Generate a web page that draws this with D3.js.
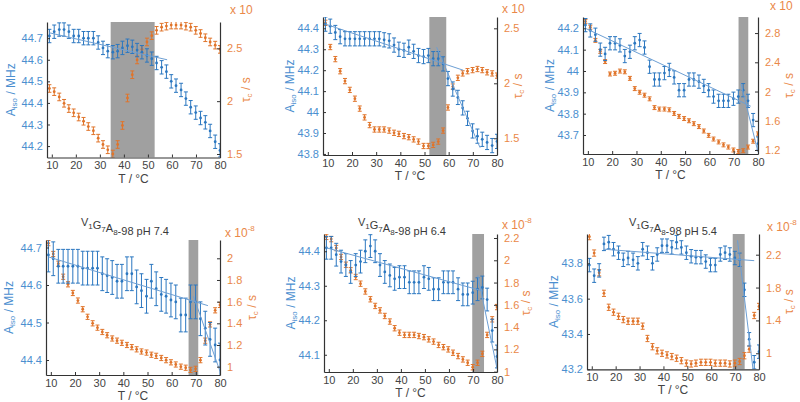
<!DOCTYPE html>
<html><head><meta charset="utf-8">
<script src="https://cdn.jsdelivr.net/npm/d3@7/dist/d3.min.js"></script>
<style>
body{margin:0;background:#fff}
svg{display:block}
text{font-family:"Liberation Sans",Arial,Helvetica,sans-serif}
</style>
</head><body>
<svg id="c" width="800" height="402"></svg>
<script>
// ---------------- DATA ----------------
const temps = [9.0, 11.0, 13.1, 15.1, 17.1, 19.1, 21.2, 23.2, 25.2, 27.3, 29.3, 31.3, 33.3, 35.4, 37.4, 39.4, 41.5, 43.5,
               45.5, 47.5, 49.6, 51.6, 53.6, 55.7, 57.7, 59.7, 61.7, 63.8, 65.8, 67.8, 69.9, 71.9, 73.9, 75.9, 78.0, 80.0];
const xTicks = [10, 20, 30, 40, 50, 60, 70, 80];
const xDomain = [8, 80];

const titles = ["", "", "", "V_1G_7A_8-98 pH 7.4", "V_1G_7A_8-98 pH 6.4", "V_1G_7A_8-98 pH 5.4"];

const aisoP1 = [44.71, 44.73, 44.74, 44.74, 44.73, 44.71, 44.71, 44.70, 44.70, 44.70, 44.68, 44.655, 44.64, 44.635, 44.64, 44.655, 44.665, 44.66,
                44.645, 44.635, 44.62, 44.605, 44.585, 44.565, 44.545, 44.50, 44.48, 44.46, 44.42, 44.38, 44.355, 44.33, 44.31, 44.27, 44.22, 44.18];
const tauP1  = [2.12, 2.09, 2.04, 1.98, 1.93, 1.89, 1.85, 1.81, 1.76, 1.72, 1.65, 1.59, 1.54, 1.50, 1.59, 1.77, 2.03, 2.25,
                2.39, 2.49, 2.56, 2.62, 2.67, 2.70, 2.71, 2.72, 2.72, 2.72, 2.71, 2.70, 2.67, 2.64, 2.60, 2.56, 2.53, 2.49];

const aisoP2 = [44.42, 44.41, 44.38, 44.36, 44.35, 44.35, 44.35, 44.35, 44.35, 44.35, 44.35, 44.35, 44.345, 44.34, 44.32, 44.30, 44.295, 44.31,
                44.29, 44.27, 44.265, 44.27, 44.255, 44.255, 44.23, 44.16, 44.11, 44.07, 44.02, 43.97, 43.91, 43.885, 43.87, 43.855, 43.84, 43.86];
const tauP2  = [2.55, 2.33, 2.22, 2.11, 2.02, 1.94, 1.86, 1.77, 1.69, 1.62, 1.58, 1.58, 1.58, 1.57, 1.55, 1.54, 1.52, 1.51,
                1.49, 1.47, 1.43, 1.43, 1.44, 1.47, 1.57, 1.78, 1.97, 2.05, 2.09, 2.11, 2.12, 2.13, 2.12, 2.10, 2.09, 2.07];

const aisoP3 = [44.215, 44.19, 44.17, 44.10, 44.08, 44.13, 44.13, 44.12, 44.07, 44.09, 44.13, 44.145, 44.11, 44.02, 43.96, 43.96, 43.99, 44.005,
                43.97, 43.91, 43.91, 43.96, 43.96, 43.95, 43.93, 43.91, 43.88, 43.86, 43.86, 43.86, 43.87, 43.88, 43.91, 43.86, 43.77, 43.66];
const tauP3  = [2.96, 2.88, 2.70, 2.55, 2.41, 2.24, 2.25, 2.28, 2.27, 2.18, 2.04, 1.99, 1.95, 1.90, 1.78, 1.76, 1.76, 1.75,
                1.70, 1.66, 1.63, 1.60, 1.56, 1.52, 1.46, 1.40, 1.35, 1.31, 1.27, 1.24, 1.20, 1.18, 1.19, 1.24, 1.32, 1.42];

const aisoP4 = [44.68, 44.67, 44.65, 44.65, 44.65, 44.65, 44.65, 44.645, 44.645, 44.645, 44.645, 44.63, 44.625, 44.62, 44.61, 44.61, 44.63, 44.63,
                44.595, 44.585, 44.57, 44.61, 44.59, 44.575, 44.57, 44.56, 44.555, 44.52, 44.52, 44.555, 44.555, 44.51, 44.485, 44.455, 44.44, 44.40];
const tauP4  = [2.14, 2.04, 1.95, 1.83, 1.76, 1.68, 1.61, 1.53, 1.46, 1.40, 1.36, 1.32, 1.29, 1.26, 1.24, 1.22, 1.20, 1.18,
                1.16, 1.14, 1.13, 1.11, 1.10, 1.08, 1.06, 1.04, 1.02, 1.00, 0.99, 0.97, 0.98, 1.06, 1.24, 1.39, 1.52, 1.57];

const aisoP5 = [44.41, 44.41, 44.39, 44.37, 44.36, 44.34, 44.36, 44.37, 44.40, 44.415, 44.40, 44.36, 44.34, 44.33, 44.32, 44.325, 44.325, 44.31,
                44.31, 44.31, 44.325, 44.32, 44.29, 44.29, 44.31, 44.31, 44.31, 44.29, 44.275, 44.275, 44.28, 44.29, 44.295, 44.26, 44.17, 44.095];
const tauP5  = [2.21, 2.19, 2.11, 2.03, 1.96, 1.91, 1.85, 1.79, 1.72, 1.65, 1.59, 1.55, 1.50, 1.45, 1.39, 1.35, 1.33, 1.33,
                1.33, 1.32, 1.31, 1.29, 1.27, 1.24, 1.22, 1.20, 1.17, 1.14, 1.11, 1.08, 1.04, 1.08, 1.16, 1.33, 1.47, 1.58];

const aisoP6 = [43.79, 43.73, 43.76, 43.91, 43.92, 43.88, 43.86, 43.82, 43.83, 43.82, 43.80, 43.88, 43.86, 43.80, 43.85, 43.90, 43.90, 43.89,
                43.92, 43.89, 43.86, 43.84, 43.835, 43.835, 43.81, 43.79, 43.79, 43.85, 43.86, 43.85, 43.83, 43.82, 43.65, 43.37, 43.24, 43.30];
const tauP6  = [2.42, 2.22, 1.98, 1.73, 1.56, 1.50, 1.45, 1.41, 1.39, 1.39, 1.39, 1.33, 1.18, 1.08, 1.03, 1.00, 0.98, 0.96,
                0.94, 0.91, 0.88, 0.87, 0.88, 0.89, 0.89, 0.89, 0.88, 0.88, 0.88, 0.87, 0.88, 0.90, 0.97, 1.05, 1.46, 1.57];

const aisoSeries = [aisoP1, aisoP2, aisoP3, aisoP4, aisoP5, aisoP6];
const tauSeries  = [tauP1, tauP2, tauP3, tauP4, tauP5, tauP6];
const aisoErr = [0.031, 0.034, 0.031, 0.045, 0.033, 0.038];
const tauErr  = [0.036, 0.024, 0.027, 0.024, 0.024, 0.038];

const leftDomains  = [[44.147, 44.775], [43.795, 44.454], [43.611, 44.253], [44.36, 44.72], [44.05, 44.45], [43.2, 43.966]];
const rightDomains = [[1.467, 2.749], [1.348, 2.603], [1.145, 3.02], [0.923, 2.169], [0.997, 2.236], [0.805, 2.452]];
const leftTicks  = [[44.2, 44.3, 44.4, 44.5, 44.6, 44.7], [43.8, 43.9, 44, 44.1, 44.2, 44.3, 44.4],
                    [43.7, 43.8, 43.9, 44, 44.1, 44.2], [44.4, 44.5, 44.6, 44.7], [44.1, 44.2, 44.3, 44.4], [43.2, 43.4, 43.6, 43.8]];
const rightTicks = [[1.5, 2, 2.5], [1.5, 2, 2.5], [1.2, 1.6, 2, 2.4, 2.8], [1, 1.2, 1.4, 1.6, 1.8, 2], [1, 1.2, 1.4, 1.6, 1.8, 2, 2.2], [1, 1.4, 1.8, 2.2]];

const grayBands = [[34.5, 52.8], [52, 59], [72, 76], [67, 71], [69.7, 74.6], [69, 74]];
const fitPre   = [[[9, 44.725], [58, 44.60]], [[9, 44.42], [66, 44.20]], [[9, 44.2], [77, 43.835]],
                  [[9, 44.675], [75, 44.545]], [[9, 44.41], [74, 44.285]], [[15, 43.88], [78, 43.815]]];
const fitPost  = [null, [[55, 44.31], [73, 43.83]], [[73, 43.94], [80, 43.62]],
                  [[69, 44.57], [80, 44.37]], [[72, 44.33], [80, 44.06]], [[71, 43.93], [77.5, 43.2]]];
const exponent = "-8";

// ---------------- LAYOUT / STYLE ----------------
const layout = [
  {x0: 47,  x1: 220, y0: 22,  y1: 157.5, lx: 12,  rx: 247, ex: 230, ey: 14,  sup: false},
  {x0: 323, x1: 497, y0: 17,  y1: 155,   lx: 291, rx: 519, ex: 502, ey: 13,  sup: false},
  {x0: 583, x1: 758, y0: 17,  y1: 154,   lx: 551, rx: 790, ex: 770, ey: 10,  sup: false},
  {x0: 46,  x1: 220, y0: 240, y1: 375,   lx: 10,  rx: 253, ex: 225, ey: 237, sup: true, tx: 125, ty: 226},
  {x0: 324, x1: 497, y0: 234, y1: 372,   lx: 292, rx: 527, ex: 502, ey: 229, sup: true, tx: 402, ty: 226},
  {x0: 587, x1: 759, y0: 234, y1: 369.3, lx: 555, rx: 790, ex: 767, ey: 231, sup: true, tx: 673, ty: 226}
];
const BLUE = "#2b77c0", BLUE_T = "#4b8fd0", ORANGE = "#e0742a", ORANGE_T = "#ea8848",
      FIT = "#6d9fd4", GRAY = "#a0a0a0", AX = "#333333", TITLE = "#3a3a3a";

const svg = d3.select("#c");
const fmt = d => String(Math.round(d * 10) / 10);

function subText(sel, markup, subSize) {
  let i = 0;
  while (i < markup.length) {
    if (markup[i] === "_") {
      sel.append("tspan").attr("dy", 3).attr("font-size", subSize).text(markup[i + 1]);
      sel.append("tspan").attr("dy", -3).text("");
      i += 2;
    } else {
      let j = i;
      while (j < markup.length && markup[j] !== "_") j++;
      sel.append("tspan").text(markup.slice(i, j));
      i = j;
    }
  }
}

function drawSeries(g, xs, ys, err, x, y, color) {
  const pts = xs.map((t, k) => ({t, v: ys[k]}));
  const gg = g.append("g").attr("stroke", color).attr("stroke-width", 1);
  gg.selectAll("line.v").data(pts).join("line").attr("class", "v")
    .attr("x1", d => x(d.t)).attr("x2", d => x(d.t))
    .attr("y1", d => y(d.v - err)).attr("y2", d => y(d.v + err));
  gg.selectAll("line.t").data(pts).join("line").attr("class", "t")
    .attr("x1", d => x(d.t) - 2).attr("x2", d => x(d.t) + 2)
    .attr("y1", d => y(d.v + err)).attr("y2", d => y(d.v + err));
  gg.selectAll("line.b").data(pts).join("line").attr("class", "b")
    .attr("x1", d => x(d.t) - 2).attr("x2", d => x(d.t) + 2)
    .attr("y1", d => y(d.v - err)).attr("y2", d => y(d.v - err));
  g.append("g").selectAll("circle").data(pts).join("circle")
    .attr("cx", d => x(d.t)).attr("cy", d => y(d.v)).attr("r", 1.4).attr("fill", color);
}

layout.forEach((L, i) => {
  const x = d3.scaleLinear().domain(xDomain).range([L.x0, L.x1]);
  const yl = d3.scaleLinear().domain(leftDomains[i]).range([L.y1, L.y0]);
  const yr = d3.scaleLinear().domain(rightDomains[i]).range([L.y1, L.y0]);
  const g = svg.append("g");

  svg.append("clipPath").attr("id", "clip" + i).append("rect")
    .attr("x", L.x0).attr("y", L.y0).attr("width", L.x1 - L.x0).attr("height", L.y1 - L.y0);
  const plot = g.append("g").attr("clip-path", `url(#clip${i})`);

  plot.append("rect")
    .attr("x", x(grayBands[i][0])).attr("width", x(grayBands[i][1]) - x(grayBands[i][0]))
    .attr("y", L.y0).attr("height", L.y1 - L.y0).attr("fill", GRAY);

  drawSeries(plot, temps, tauSeries[i], tauErr[i], x, yr, ORANGE);
  drawSeries(plot, temps, aisoSeries[i], aisoErr[i], x, yl, BLUE);

  const line = d3.line().x(d => x(d[0])).y(d => yl(d[1]));
  [fitPre[i], fitPost[i]].forEach(f => {
    if (f) plot.append("path").attr("d", line(f)).attr("fill", "none").attr("stroke", FIT).attr("stroke-width", 1);
  });

  // axes
  const xa = g.append("g").attr("transform", `translate(0,${L.y1})`)
    .call(d3.axisBottom(x).tickValues(xTicks).tickSizeInner(-3).tickSizeOuter(0).tickPadding(4));
  xa.selectAll("text").attr("fill", "#444").attr("font-size", 11);
  const la = g.append("g").attr("transform", `translate(${L.x0},0)`)
    .call(d3.axisLeft(yl).tickValues(leftTicks[i]).tickFormat(fmt).tickSizeInner(-3).tickSizeOuter(0).tickPadding(4));
  la.selectAll("text").attr("fill", BLUE_T).attr("font-size", 11);
  const ra = g.append("g").attr("transform", `translate(${L.x1},0)`)
    .call(d3.axisRight(yr).tickValues(rightTicks[i]).tickFormat(fmt).tickSizeInner(-3).tickSizeOuter(0).tickPadding(7));
  ra.selectAll("text").attr("fill", ORANGE_T).attr("font-size", 11);
  [xa, la, ra].forEach(a => {
    a.select(".domain").attr("stroke", AX).attr("stroke-width", 1.2);
    a.selectAll(".tick line").attr("stroke", AX);
    a.attr("font-family", null);
  });

  // labels
  const midY = (L.y0 + L.y1) / 2;
  g.append("text").attr("x", (L.x0 + L.x1) / 2).attr("y", L.y1 + 22)
    .attr("text-anchor", "middle").attr("dominant-baseline", "middle")
    .attr("font-size", 12).attr("fill", "#444").text("T / °C");
  const lt = g.append("text").attr("transform", `translate(${L.lx},${midY}) rotate(-90)`)
    .attr("text-anchor", "middle").attr("dominant-baseline", "middle")
    .attr("font-size", 12).attr("fill", BLUE_T);
  lt.append("tspan").text("A");
  lt.append("tspan").attr("dy", 3).attr("font-size", 8).text("iso");
  lt.append("tspan").attr("dy", -3).text(" / MHz");
  const rt = g.append("text").attr("transform", `translate(${L.rx},${midY}) rotate(-90)`)
    .attr("text-anchor", "middle").attr("dominant-baseline", "middle")
    .attr("font-size", 12).attr("fill", ORANGE_T);
  rt.append("tspan").text("τ");
  rt.append("tspan").attr("dy", 3).attr("font-size", 8).text("c");
  rt.append("tspan").attr("dy", -3).text(" / s");

  const et = g.append("text").attr("x", L.ex).attr("y", L.ey).attr("font-size", 12).attr("fill", ORANGE_T).text("x 10");
  if (L.sup) et.append("tspan").attr("dy", -6).attr("font-size", 8).text(exponent);

  if (titles[i]) {
    const tt = g.append("text").attr("x", L.tx).attr("y", L.ty).attr("text-anchor", "middle")
      .attr("font-size", 11).attr("fill", TITLE);
    subText(tt, titles[i], 8);
  }
});
</script>
</body></html>
